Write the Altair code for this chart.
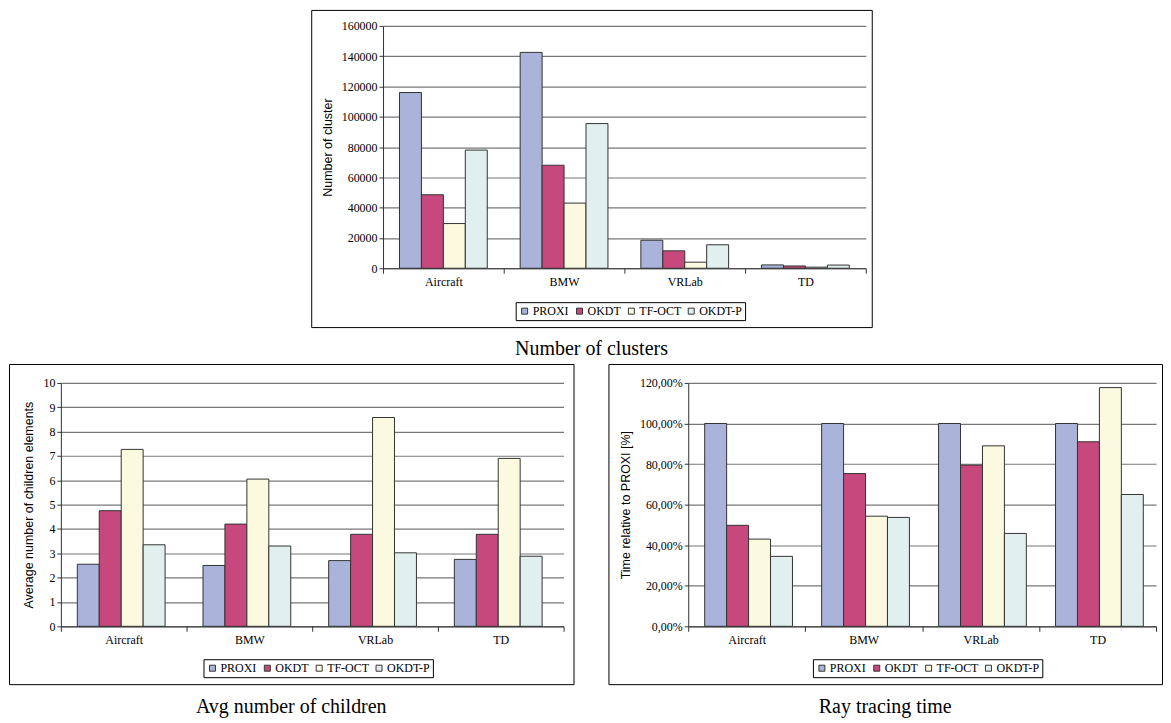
import altair as alt
import pandas as pd

categories = ["Aircraft", "BMW", "VRLab", "TD"]
methods = ["PROXI", "OKDT", "TF-OCT", "OKDT-P"]
colors = ["#aab4db", "#c7487c", "#fbfae0", "#e1f0ef"]

# Number of clusters
clusters_proxi = [116000, 142500, 18500, 2200]
clusters_okdt = [48500, 68000, 11500, 1500]
clusters_tfoct = [29500, 43000, 4000, 700]
clusters_okdtp = [78000, 95500, 15500, 2100]

# Average number of children
children_proxi = [2.55, 2.5, 2.7, 2.75]
children_okdt = [4.75, 4.2, 3.78, 3.78]
children_tfoct = [7.27, 6.05, 8.58, 6.9]
children_okdtp = [3.35, 3.3, 3.02, 2.88]

# Ray tracing time relative to PROXI (%)
time_proxi = [100, 100, 100, 100]
time_okdt = [49.8, 75.3, 79.5, 91.0]
time_tfoct = [43.0, 54.3, 89.0, 117.7]
time_okdtp = [34.5, 53.7, 45.8, 65.0]

SERIF = "Liberation Serif"
SANS = "Liberation Sans"


def panel(series, W, H, ax, right, zero_y, top_y, ymax, ystep, ytitle,
          label_expr, leg_x, leg_y, caption, cap_offset):
    rows = []
    for m, vals in zip(methods, series):
        for c, v in zip(categories, vals):
            rows.append({"cat": c, "method": m, "value": v})
    df = pd.DataFrame(rows)
    tick_values = [ystep * i for i in range(int(round(ymax / ystep)) + 1)]
    return alt.Chart(df).mark_bar(stroke="#333333", strokeWidth=1).encode(
        x=alt.X(
            "cat:N", sort=categories, title=None,
            scale=alt.Scale(range=[ax, right], paddingInner=0, paddingOuter=0),
            axis=alt.Axis(orient="bottom", offset=-(H - zero_y), labelAngle=0,
                          tickBand="extent", tickSize=5, labelPadding=3,
                          grid=False, domainColor="#333333", tickColor="#333333",
                          labelFont=SERIF, labelFontSize=12, labelColor="black"),
        ),
        xOffset=alt.XOffset("method:N", sort=methods,
                            scale=alt.Scale(paddingInner=0, paddingOuter=0.75)),
        y=alt.Y(
            "value:Q",
            scale=alt.Scale(domain=[0, ymax], range=[zero_y, top_y], nice=False),
            axis=alt.Axis(offset=-ax, values=tick_values, labelExpr=label_expr,
                          title=ytitle, titleFont=SANS, titleFontSize=12.5,
                          titleFontWeight="normal", titleColor="black",
                          titlePadding=7, labelFont=SERIF, labelFontSize=12,
                          labelColor="black", tickSize=4, tickColor="#333333",
                          domainColor="#333333", grid=True, gridColor="#777777",
                          gridWidth=1.2),
        ),
        color=alt.Color(
            "method:N", sort=methods,
            scale=alt.Scale(domain=methods, range=colors),
            legend=alt.Legend(
                title=None, orient="none", legendX=leg_x, legendY=leg_y,
                direction="horizontal", symbolType="square", symbolSize=36,
                symbolStrokeColor="#333333", symbolStrokeWidth=1,
                labelFont=SERIF, labelFontSize=12, labelColor="black",
                labelOffset=2, columnPadding=4, strokeColor="black",
                padding=3, fillColor="white"),
        ),
    ).properties(
        width=W, height=H,
        title=alt.TitleParams(caption, orient="bottom", font=SERIF, fontSize=20,
                              fontWeight="normal", color="black",
                              offset=cap_offset, anchor="middle"),
    )


top = panel([clusters_proxi, clusters_okdt, clusters_tfoct, clusters_okdtp],
            562, 318, 72, 556, 259, 16, 160000, 20000, "Number of cluster",
            "format(datum.value, 'd')", 205, 293, "Number of clusters", 12)

bl = panel([children_proxi, children_okdt, children_tfoct, children_okdtp],
           566, 321, 52, 556, 263, 19, 10, 1, "Average number of children elements",
           "format(datum.value, 'd')", 195, 296, "Avg number of children", 13)

br = panel([time_proxi, time_okdt, time_tfoct, time_okdtp],
           555, 321, 80, 549, 263, 19, 120, 20, "Time relative to PROXI [%]",
           "replace(format(datum.value, '.2f'), '.', ',') + '%'", 205, 296,
           "Ray tracing time", 13)

spacer = alt.Chart(pd.DataFrame({"v": [0]})).mark_point(opacity=0, size=1).encode(
    x=alt.value(150), y=alt.value(5)
).properties(width=302, height=10, view=alt.ViewBackground(stroke=None))

top_row = alt.hconcat(spacer, top, spacing=0).resolve_scale(color="independent")
bottom_row = alt.hconcat(bl, br, spacing=33).resolve_scale(color="independent")

chart = alt.vconcat(top_row, bottom_row, spacing=3).resolve_scale(
    color="independent"
).properties(
    padding=0, background="white"
).configure_view(
    stroke="black", strokeWidth=1
).configure_legend(
    labelFont=SERIF
).configure_axis(
    labelFont=SERIF
)

chart.save("out.html", embed_options={"renderer": "svg", "actions": False})
